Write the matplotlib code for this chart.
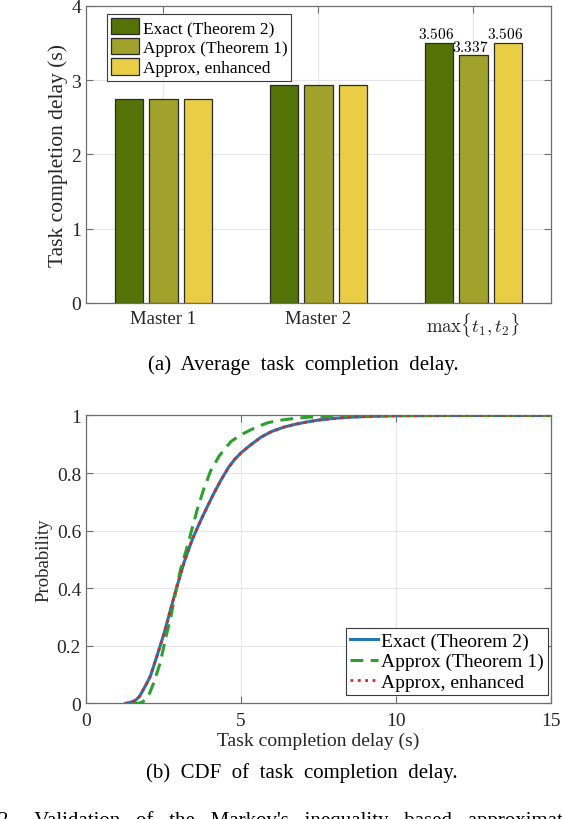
import numpy as np
import matplotlib
matplotlib.use("Agg")
import matplotlib.pyplot as plt
from matplotlib.patches import Patch
from matplotlib.lines import Line2D

plt.rcParams['font.family'] = ['Liberation Serif', 'DejaVu Serif']
plt.rcParams['mathtext.fontset'] = 'cm'

# ---- data: (a) average task completion delay
groups = ["Master 1", "Master 2", r"$\max\{t_1,t_2\}$"]
exact_bar = [2.75, 2.93, 3.506]
approx_bar = [2.75, 2.935, 3.337]
enh_bar = [2.75, 2.93, 3.506]
series_names = ["Exact (Theorem 2)", "Approx (Theorem 1)", "Approx, enhanced"]

# ---- data: (b) CDF of task completion delay
exact_x = [1.27, 1.4, 1.59, 1.73, 1.86, 1.97, 2.08, 2.29, 2.51, 2.73, 2.94, 3.16,
           3.43, 3.72, 3.92, 4.15, 4.35, 4.6, 4.8, 5.0, 5.3, 5.65, 6.0, 6.4, 6.73,
           7.1, 7.49, 8.0, 8.5, 9.2, 10.0, 12.0, 15.0]
exact_y = [0.0, 0.003, 0.01, 0.025, 0.05, 0.072, 0.096, 0.165, 0.24, 0.327, 0.408, 0.489,
           0.57, 0.64, 0.685, 0.735, 0.775, 0.82, 0.848, 0.87, 0.897, 0.925, 0.945, 0.96, 0.969,
           0.977, 0.984, 0.99, 0.994, 0.997, 0.999, 1.0, 1.0]
approx_x = [1.5, 1.65, 1.8, 1.92, 2.05, 2.19, 2.40, 2.56, 2.73, 2.89, 3.05, 3.27,
            3.43, 3.59, 3.8, 4.03, 4.3, 4.68, 5.0, 5.22, 5.5, 5.87, 6.3, 6.73, 7.3,
            8.0, 10.0, 15.0]
approx_y = [0.0, 0.0, 0.004, 0.012, 0.035, 0.073, 0.143, 0.223, 0.298, 0.385, 0.465, 0.546,
            0.61, 0.674, 0.745, 0.81, 0.86, 0.91, 0.933, 0.945, 0.96, 0.975, 0.984, 0.99, 0.995,
            0.998, 1.0, 1.0]
enh_x = [1.27, 1.4, 1.59, 1.73, 1.86, 1.97, 2.08, 2.29, 2.51, 2.73, 2.94, 3.16,
         3.43, 3.72, 3.92, 4.15, 4.35, 4.6, 4.8, 5.0, 5.3, 5.65, 6.0, 6.4, 6.73,
         7.1, 7.49, 8.0, 8.5, 9.2, 10.0, 12.0, 15.0]
enh_y = [0.0, 0.003, 0.01, 0.025, 0.05, 0.072, 0.096, 0.165, 0.24, 0.327, 0.408, 0.489,
         0.57, 0.64, 0.685, 0.735, 0.775, 0.82, 0.848, 0.87, 0.897, 0.925, 0.945, 0.96, 0.969,
         0.977, 0.984, 0.99, 0.994, 0.997, 0.999, 1.0, 1.0]

bar_colors = ["#537306", "#A0A22B", "#E8CD45"]
line_colors = ["#1f77b4", "#2ca02c", "#d62728"]
txt = "#262626"
edge = "#6e6e6e"


def style_axes(ax):
    for s in ax.spines.values():
        s.set_color(edge)
        s.set_linewidth(0.9)
    ax.tick_params(direction="in", top=True, right=True, colors=edge,
                   labelcolor=txt, length=5, width=0.8)
    ax.grid(True, color="#e6e6e6", linewidth=0.8)
    ax.set_axisbelow(True)


fig = plt.figure(figsize=(5.62, 8.2), dpi=100)

# ---------------- (a)
ax1 = fig.add_axes([0.153, 0.6293, 0.8274, 0.3622])
style_axes(ax1)
pos = np.arange(1, len(groups) + 1)
w = 0.183
off = 0.221
all_bars = [exact_bar, approx_bar, enh_bar]
for k, vals in enumerate(all_bars):
    ax1.bar(pos + (k - 1) * off, vals, width=w, color=bar_colors[k],
            edgecolor="#2a2a2a", linewidth=0.9, zorder=3)
# value labels on the last group
for k, vals in enumerate(all_bars):
    ax1.text(pos[-1] + (k - 1) * off - 0.02, vals[-1] + 0.02, "$%.3f$" % vals[-1],
             ha="center", va="bottom", fontsize=11, color="black", zorder=4)
ax1.set_xlim(0.5, 3.5)
ax1.set_ylim(0, 4)
ax1.set_xticks(pos)
ax1.set_xticklabels(groups, fontsize=13.5)
ax1.set_yticks([0, 1, 2, 3, 4])
ax1.tick_params(axis="y", labelsize=14)
ax1.tick_params(axis="x", pad=5)
ax1.set_ylabel("Task completion delay (s)", fontsize=15.5, color=txt, labelpad=2)
h1 = [Patch(facecolor=c, edgecolor="#2a2a2a", linewidth=0.9) for c in bar_colors]
leg1 = ax1.legend(h1, series_names, loc="upper left", bbox_to_anchor=(0.045, 0.973),
                  borderaxespad=0, fontsize=12.5, handlelength=1.6, handleheight=1.05,
                  handletextpad=0.2, labelspacing=0.12, borderpad=0.25,
                  fancybox=False, framealpha=1, edgecolor="#3a3a3a")
leg1.get_frame().set_linewidth(0.8)

# ---------------- (b)
ax2 = fig.add_axes([0.153, 0.1409, 0.8274, 0.3512])
style_axes(ax2)
ax2.plot(exact_x, exact_y, color=line_colors[0], linewidth=2.2, zorder=3)
ax2.plot(approx_x, approx_y, color=line_colors[1], linewidth=2.2,
         dashes=(4.2, 2.4), zorder=4)
ax2.plot(enh_x, enh_y, color=line_colors[2], linewidth=2.0, linestyle=":", zorder=5)
ax2.set_xlim(0, 15)
ax2.set_ylim(0, 1)
ax2.set_xticks([0, 5, 10, 15])
ax2.set_yticks([0, 0.2, 0.4, 0.6, 0.8, 1.0])
ax2.set_yticklabels(["0", "0.2", "0.4", "0.6", "0.8", "1"])
ax2.tick_params(labelsize=14)
ax2.tick_params(axis="x", pad=6)
ax2.set_xlabel("Task completion delay (s)", fontsize=14, color=txt, labelpad=2)
ax2.set_ylabel("Probability", fontsize=13.5, color=txt, labelpad=3)
h2 = [Line2D([], [], color=line_colors[0], linewidth=2.2),
      Line2D([], [], color=line_colors[1], linewidth=2.2, dashes=(4.2, 2.4)),
      Line2D([], [], color=line_colors[2], linewidth=2.0, linestyle=":")]
leg2 = ax2.legend(h2, series_names, loc="lower right", bbox_to_anchor=(0.993, 0.03),
                  borderaxespad=0, fontsize=14, handlelength=1.45,
                  handletextpad=0.15, labelspacing=0.15, borderpad=0.2,
                  fancybox=False, framealpha=1, edgecolor="#3a3a3a")
leg2.get_frame().set_linewidth(0.8)

# ---------------- captions
fig.text(0.539, 1 - 365 / 820, "(a)  Average  task  completion  delay.",
         ha="center", va="center", fontsize=15, color="black")
fig.text(0.537, 1 - 773 / 820, "(b)  CDF  of  task  completion  delay.",
         ha="center", va="center", fontsize=15, color="black")
fig.text(-0.004, -6 / 820, "2.    Validation   of   the   Markov's   inequality   based   approximation",
         ha="left", va="baseline", fontsize=15, color="black")

fig.savefig("out.png", dpi=100)
